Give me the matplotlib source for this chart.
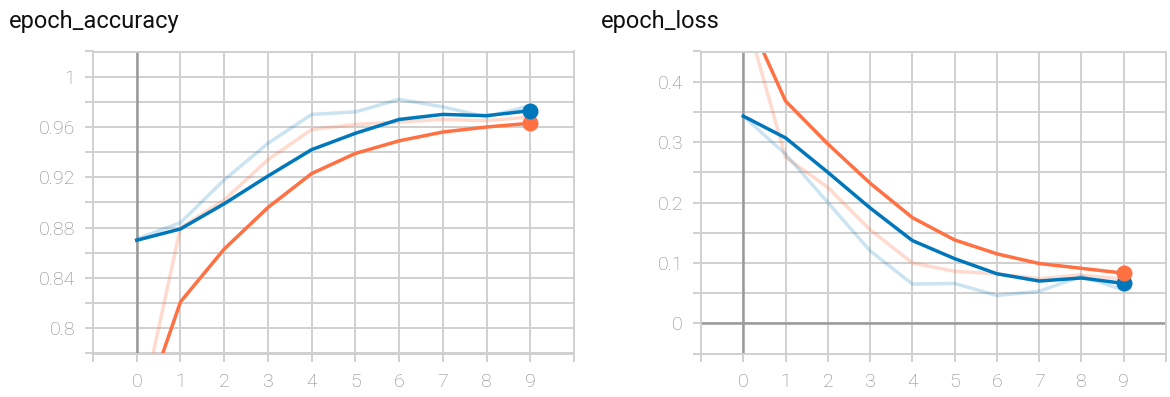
import matplotlib
matplotlib.use("Agg")
import matplotlib.pyplot as plt
from matplotlib.ticker import MultipleLocator, FuncFormatter

plt.rcParams['font.family'] = ['Roboto', 'DejaVu Sans']

# epoche
epochs = [0, 1, 2, 3, 4, 5, 6, 7, 8, 9]

# accuracy: arancione = train, blu = validation (smoothed + raw)
acc_train = [0.72, 0.821, 0.863, 0.896, 0.923, 0.939, 0.949, 0.956, 0.960, 0.963]
acc_train_raw = [0.72, 0.880, 0.902, 0.934, 0.958, 0.962, 0.964, 0.966, 0.965, 0.968]
acc_val = [0.870, 0.879, 0.899, 0.921, 0.942, 0.955, 0.966, 0.970, 0.969, 0.973]
acc_val_raw = [0.871, 0.884, 0.918, 0.947, 0.970, 0.972, 0.982, 0.976, 0.968, 0.977]

# loss
loss_train = [0.523, 0.368, 0.297, 0.232, 0.175, 0.138, 0.115, 0.099, 0.091, 0.083]
loss_train_raw = [0.523, 0.275, 0.225, 0.155, 0.100, 0.086, 0.082, 0.074, 0.080, 0.073]
loss_val = [0.343, 0.307, 0.250, 0.191, 0.137, 0.107, 0.082, 0.070, 0.075, 0.066]
loss_val_raw = [0.343, 0.280, 0.200, 0.120, 0.065, 0.066, 0.046, 0.053, 0.078, 0.055]

x_labels = ['', '0', '1', '2', '3', '4', '5', '6', '7', '8', '9', '']

ARANCIO = '#ff7043'
BLU = '#0077bb'
GRIGLIA = '#d0d0d0'
ASSE = '#9a9a9a'


def disegna(ax, train, train_raw, val, val_raw, ylim, major, minor, blu_sopra):
    ax.set_xlim(-1, 10)
    ax.set_ylim(*ylim)
    ax.set_xticks(range(-1, 11))
    ax.set_xticklabels(x_labels)
    ax.yaxis.set_major_locator(MultipleLocator(major))
    ax.yaxis.set_minor_locator(MultipleLocator(minor))
    ax.yaxis.set_major_formatter(FuncFormatter(lambda v, p: '%g' % round(v, 4)))

    ax.grid(True, which='both', color=GRIGLIA, linewidth=1.4)
    ax.set_axisbelow(True)
    for s in ax.spines.values():
        s.set_color(GRIGLIA)
        s.set_linewidth(1.4)
    ax.tick_params(which='both', length=6, width=1.4, color=GRIGLIA,
                   labelcolor='#858585', labelsize=14)
    ax.tick_params(axis='y', pad=7)
    ax.tick_params(axis='x', pad=8)

    ax.axvline(0, color=ASSE, linewidth=1.8, zorder=1.5)
    if ylim[0] < 0:
        ax.axhline(0, color=ASSE, linewidth=1.8, zorder=1.5)

    ax.plot(epochs, train_raw, color=ARANCIO, alpha=0.25, linewidth=2.5)
    ax.plot(epochs, val_raw, color=BLU, alpha=0.2, linewidth=2.5)

    ordine = [(train, ARANCIO), (val, BLU)]
    if not blu_sopra:
        ordine = ordine[::-1]
    for serie, col in ordine:
        ax.plot(epochs, serie, color=col, linewidth=2.5)
        ax.plot(epochs[-1], serie[-1], 'o', color=col, markersize=10.5)

    for lab in ax.get_yticklabels() + ax.get_xticklabels():
        lab.set_fontweight('light')


fig = plt.figure(figsize=(11.7, 3.97), dpi=100)
ax1 = fig.add_axes([93 / 1170, 1 - 353.5 / 397, 481 / 1170, 302 / 397])
ax2 = fig.add_axes([701 / 1170, 1 - 353.5 / 397, 465 / 1170, 302 / 397])

disegna(ax1, acc_train, acc_train_raw, acc_val, acc_val_raw,
        (0.78, 1.02), 0.04, 0.02, True)
disegna(ax2, loss_train, loss_train_raw, loss_val, loss_val_raw,
        (-0.05, 0.45), 0.1, 0.05, False)

# titoli dei pannelli
fig.text(9 / 1170, 1 - 28 / 397, 'epoch_accuracy', fontsize=17,
         color='#111111', ha='left', va='baseline')
fig.text(601 / 1170, 1 - 28 / 397, 'epoch_loss', fontsize=17,
         color='#111111', ha='left', va='baseline')

fig.savefig('out.png', dpi=100)
